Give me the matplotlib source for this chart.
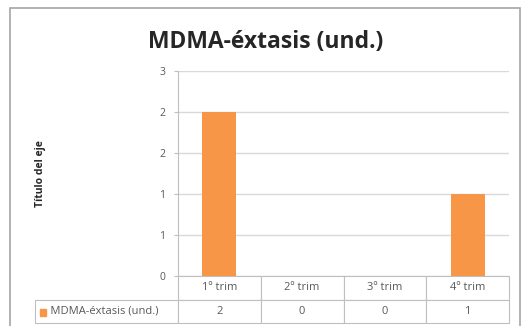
import math
import matplotlib
matplotlib.use("Agg")
import matplotlib.pyplot as plt
from matplotlib.patches import Rectangle

# trimestres y unidades
trimestres = ["1º trim", "2º trim", "3º trim", "4º trim"]
unidades = [2, 0, 0, 1]
serie = "MDMA-éxtasis (und.)"
titulo = "MDMA-éxtasis (und.)"
eje_y = "Título del eje"

naranja = "#F79646"
gris_txt = "#595959"
gris_lin = "#D9D9D9"

plt.rcParams["font.family"] = ["Open Sans", "DejaVu Sans"]

W, H = 529, 326
fig = plt.figure(figsize=(W / 100, H / 100), dpi=100)

# marco exterior del grafico
fig.patches.append(Rectangle((10 / W, -0.05), 510 / W, 1 - 8 / H + 0.05,
                             transform=fig.transFigure, fill=False,
                             edgecolor="#A6A6A6", linewidth=1.2))

ax = fig.add_axes([178 / W, 1 - 276 / H, 331 / W, 205 / H])
x = list(range(len(trimestres)))
ax.bar(x, unidades, width=0.41, color=naranja, zorder=3)
ax.set_xlim(-0.5, len(trimestres) - 0.5)
ax.set_ylim(0, 2.5)
ax.set_yticks([0, 0.5, 1, 1.5, 2, 2.5])
ax.yaxis.set_major_formatter(lambda v, pos: str(int(math.floor(v + 0.5))))
ax.set_xticks([])
ax.grid(axis="y", color=gris_lin, linewidth=1, zorder=0)
for s in ["top", "right", "bottom"]:
    ax.spines[s].set_visible(False)
ax.spines["left"].set_color("#BFBFBF")
ax.tick_params(axis="y", length=3, color="#BFBFBF", labelcolor=gris_txt,
               labelsize=7.5, pad=6)

# tabla de datos bajo el eje
lab_w = 143
col_w = 331 / len(trimestres)
tot_w = lab_w + col_w * len(trimestres)
celdas = [[""] + trimestres,
          ["     " + serie] + [str(v) for v in unidades]]
tabla = ax.table(cellText=celdas,
                 colWidths=[lab_w / tot_w] + [col_w / tot_w] * len(trimestres),
                 bbox=[-lab_w / 331, -47 / 205, tot_w / 331, 47 / 205],
                 cellLoc="center")
tabla.auto_set_font_size(False)
for (r, c), cell in tabla.get_celld().items():
    cell.set_edgecolor("#BFBFBF")
    cell.set_linewidth(0.8)
    cell.get_text().set_fontsize(8)
    cell.get_text().set_color(gris_txt)
    if r == 0 and c == 0:
        cell.visible_edges = ""
tabla[1, 0].get_text().set_ha("left")
tabla[1, 0].PAD = 0.01

# clave de la leyenda
ax.add_patch(Rectangle((-138 / 331, -40 / 205), 6 / 331, 7 / 205,
                       transform=ax.transAxes, color=naranja, clip_on=False))

fig.text(266 / W, 1 - 42 / H, titulo, ha="center", va="center",
         fontsize=16.5, fontweight="bold", color="#262626")
fig.text(40 / W, 1 - 174 / H, eje_y, rotation=90, ha="center", va="center",
         fontsize=7.5, fontweight="bold", color="#262626")

fig.savefig("out.png", dpi=100)
